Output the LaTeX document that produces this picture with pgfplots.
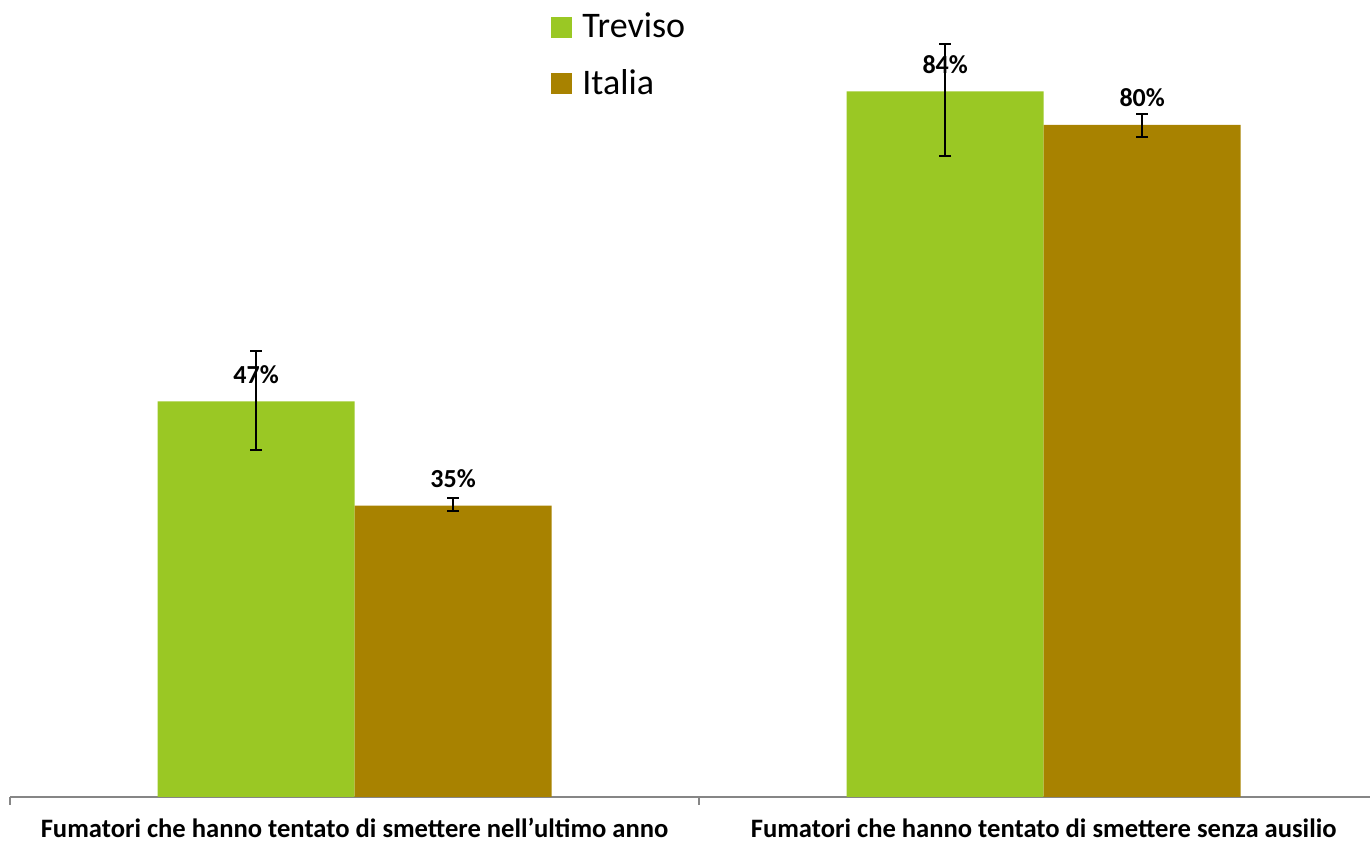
\documentclass[border=0pt]{standalone}
\usepackage{fontspec}
\setmainfont{Carlito}
\usepackage{pgfplots}
\pgfplotsset{compat=1.18}
\usepackage{pgfplotstable}
\definecolor{treviso}{RGB}{154,200,36}
\definecolor{italia}{RGB}{168,130,0}
\definecolor{axgray}{RGB}{134,134,134}

\pgfplotstableread{
x y ep em
0 47.1 6.0 5.8
1 84.0 5.6 7.7
}\trevisotab
\pgfplotstableread{
x y ep em
0 34.7 0.9 0.7
1 80.0 1.3 1.4
}\italiatab

\begin{document}
\begin{tikzpicture}
\useasboundingbox (-5pt,-24pt) rectangle (680pt,398.5pt);
\begin{axis}[
  scale only axis, width=680pt, height=398.5pt,
  xmin=-0.5, xmax=1.4735, ymin=0, ymax=94.88,
  axis x line*=bottom, axis y line=none, ytick=\empty,
  axis line style={axgray, line width=0.9pt},
  ybar=0pt, bar width=98.5pt,
  xtick={0,1},
  xticklabels={Fumatori che hanno tentato di smettere nell’ultimo anno, Fumatori che hanno tentato di smettere senza ausilio},
  major tick length=0pt,
  minor xtick={-0.5,0.5,1.5}, minor tick length=4pt, tick align=outside,
  minor tick style={axgray, line width=0.9pt},
  xticklabel style={font=\bfseries\fontsize{13.3}{15}\selectfont, anchor=base, yshift=-20.5pt},
  clip=false,
  nodes near coords={\pgfmathprintnumber[fixed,precision=0,assume math mode=true]{\pgfplotspointmeta}\%},
  every node near coord/.append style={anchor=base, yshift=9pt, inner sep=0pt, font=\bfseries\fontsize{13}{15}\selectfont, black},
  legend cell align=left,
  legend style={at={(axis description cs:0.3978,0.984)}, anchor=north west, draw=none, fill=none, inner sep=0pt,
    font=\fontsize{18}{21}\selectfont, row sep=14.1pt, /tikz/column sep=5pt, nodes={inner sep=0pt}},
  legend image code/.code={\fill[#1] (0pt,-5.25pt) rectangle (10.5pt,5.25pt);},
]
\addplot[fill=treviso, draw=none, error bars/.cd, y dir=both, y explicit,
  error bar style={draw=black, line width=1pt}, error mark options={draw=black, line width=1pt, mark size=3pt, rotate=90}]
  table[x=x, y=y, y error plus=ep, y error minus=em]{\trevisotab};
\addlegendentry{Treviso}
\addplot[fill=italia, draw=none, error bars/.cd, y dir=both, y explicit,
  error bar style={draw=black, line width=1pt}, error mark options={draw=black, line width=1pt, mark size=3pt, rotate=90}]
  table[x=x, y=y, y error plus=ep, y error minus=em]{\italiatab};
\addlegendentry{Italia}
\end{axis}
\end{tikzpicture}
\end{document}
